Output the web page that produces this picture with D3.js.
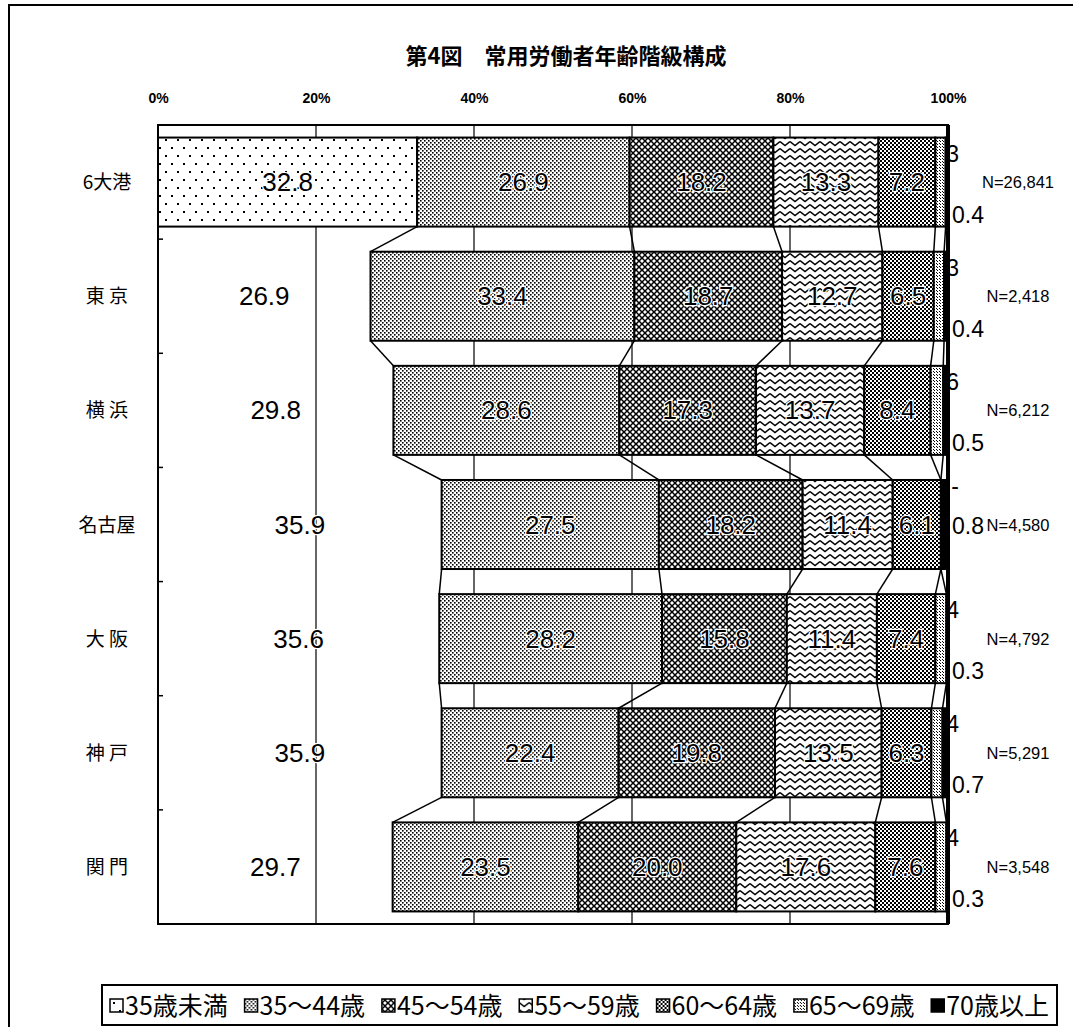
<!DOCTYPE html>
<html>
<head>
<meta charset="utf-8">
<script src="https://cdn.jsdelivr.net/npm/d3@7"></script>
<style>
  html, body { margin: 0; padding: 0; background: #fff; }
  svg { display: block; }
</style>
</head>
<body>
<div id="viz"></div>
<script>
// data (percent of regular workers by age group)
const ports = ["6大港", "東 京", "横 浜", "名古屋", "大 阪", "神 戸", "関 門"];
const ageGroups = ["35歳未満", "35～44歳", "45～54歳", "55～59歳", "60～64歳", "65～69歳", "70歳以上"];
const under35   = [32.8, 26.9, 29.8, 35.9, 35.6, 35.9, 29.7];
const age35to44 = [26.9, 33.4, 28.6, 27.5, 28.2, 22.4, 23.5];
const age45to54 = [18.2, 18.7, 17.3, 18.2, 15.8, 19.8, 20.0];
const age55to59 = [13.3, 12.7, 13.7, 11.4, 11.4, 13.5, 17.6];
const age60to64 = [7.2, 6.5, 8.4, 6.1, 7.4, 6.3, 7.6];
const age65to69 = [1.3, 1.3, 1.6, 0, 1.4, 1.4, 1.4];
const age70plus = [0.4, 0.4, 0.5, 0.8, 0.3, 0.7, 0.3];
const sampleSizes = [26841, 2418, 6212, 4580, 4792, 5291, 3548];
const tickValues = [0, 20, 40, 60, 80, 100];
const titleText = "第4図　常用労働者年齢階級構成";

const seriesValues = [under35, age35to44, age45to54, age55to59, age60to64, age65to69, age70plus];
const table = ports.map((p, i) => {
  const row = {port: p};
  ageGroups.forEach((g, s) => { row[g] = seriesValues[s][i]; });
  return row;
});
const stacked = d3.stack().keys(ageGroups)(table);

const WIDTH = 1073, HEIGHT = 1027;
const JP = "'Noto Sans CJK JP', sans-serif";
const NUM = "'Liberation Sans', Arial, sans-serif";

const svg = d3.select("#viz").append("svg")
  .attr("width", WIDTH)
  .attr("height", HEIGHT);
const defs = svg.append("defs");

// black & white fill patterns like the printed original
function pattern(id, w, h, draw) {
  const p = defs.append("pattern")
    .attr("id", id)
    .attr("patternUnits", "userSpaceOnUse")
    .attr("width", w)
    .attr("height", h);
  p.append("rect").attr("width", w).attr("height", h).attr("fill", "#fff");
  draw(p);
}
const dot = (p, x, y, s) => p.append("rect").attr("x", x).attr("y", y).attr("width", s).attr("height", s).attr("fill", "#000");

pattern("p0", 24, 16, p => {
  [[3, 3], [15, 3], [9, 11], [21, 11]].forEach(([x, y]) => dot(p, x, y, 2));
});
pattern("p1", 4, 4, p => { dot(p, 0, 0, 1.6); dot(p, 2, 2, 1.6); });
pattern("p2", 6, 6, p => {
  p.append("path").attr("d", "M0,0L6,6M6,0L0,6")
    .attr("stroke", "#000").attr("stroke-width", 1.5).attr("fill", "none");
});
pattern("p3", 10, 7, p => {
  p.append("path").attr("d", "M0,1.5L5,5.5L10,1.5")
    .attr("stroke", "#000").attr("stroke-width", 1.5).attr("fill", "none");
});
pattern("p4", 4, 4, p => { dot(p, 0, 0, 2); dot(p, 2, 2, 2); });
pattern("p5", 3, 3, p => { dot(p, 1, 0, 1); dot(p, 0, 2, 1); });
const fills = ["url(#p0)", "url(#p1)", "url(#p2)", "url(#p3)", "url(#p4)", "url(#p5)", "#000"];

// outer frame (only top and left are inside the picture)
svg.append("path")
  .attr("d", `M9,${HEIGHT + 5}V5H${WIDTH + 5}`)
  .attr("fill", "none").attr("stroke", "#000").attr("stroke-width", 2);

svg.append("text")
  .attr("x", 566).attr("y", 64)
  .attr("text-anchor", "middle")
  .style("font-family", JP).style("font-size", "22px").style("font-weight", "bold")
  .text(titleText);

const plot = {left: 158, right: 948, top: 125, bottom: 924};

const x = d3.scaleLinear().domain([0, 100]).range([plot.left, plot.right]);
const y = d3.scaleBand().domain(ports).range([plot.top, plot.bottom])
  .paddingInner(0.22).paddingOuter(0.11);
const bw = y.bandwidth();

// top axis labels
const axis = svg.append("g")
  .attr("transform", `translate(0,${103})`)
  .call(d3.axisTop(x).tickValues(tickValues).tickFormat(d => d + "%").tickSize(0).tickPadding(0));
axis.select(".domain").remove();
axis.selectAll("text")
  .style("font-family", NUM).style("font-size", "14px").style("font-weight", "bold");

// vertical gridlines
svg.append("g").selectAll("line")
  .data(tickValues.slice(1, -1))
  .join("line")
  .attr("x1", d => x(d)).attr("x2", d => x(d))
  .attr("y1", plot.top).attr("y2", plot.bottom)
  .attr("stroke", "#000").attr("stroke-width", 1.2);

// small labels of the two thin segments sit to the right (partly under the bar)
const midRows = new Set(["名古屋"]);
const fmt = v => v === 0 ? "-" : d3.format(".1f")(v);
const outer = svg.append("g").style("font-family", NUM).style("font-size", "23px");
outer.selectAll("text.top")
  .data(ports)
  .join("text")
  .attr("class", "top")
  .attr("x", x(100) + 11)
  .attr("y", p => y(p) + (midRows.has(p) ? 14 : 24))
  .attr("text-anchor", "end")
  .text((p, i) => fmt(age65to69[i]));
outer.selectAll("text.bot")
  .data(ports)
  .join("text")
  .attr("class", "bot")
  .attr("x", x(100) + 4)
  .attr("y", p => midRows.has(p) ? y(p) + bw / 2 + 9 : y(p) + bw - 4)
  .text((p, i) => fmt(age70plus[i]));

// series lines between neighbouring bars
const seriesLines = [];
stacked.slice(0, -1).forEach(s => {
  for (let i = 0; i < ports.length - 1; i++) {
    seriesLines.push({x1: s[i][1], y1: ports[i], x2: s[i + 1][1], y2: ports[i + 1]});
  }
});
svg.append("g").selectAll("line")
  .data(seriesLines)
  .join("line")
  .attr("x1", d => x(d.x1)).attr("y1", d => y(d.y1) + bw)
  .attr("x2", d => x(d.x2)).attr("y2", d => y(d.y2))
  .attr("stroke", "#000").attr("stroke-width", 1.5);

// bars; the under-35 block is only drawn for the 6-port total
const segs = svg.append("g").selectAll("g")
  .data(stacked)
  .join("g")
  .attr("fill", (s, k) => fills[k]);
segs.selectAll("rect")
  .data((s, k) => s.map((d, i) => ({d, i, k})).filter(e => (e.k > 0 || e.i === 0) && e.d[1] > e.d[0]))
  .join("rect")
  .attr("x", e => x(e.d[0]))
  .attr("y", e => y(ports[e.i]))
  .attr("width", e => x(e.d[1]) - x(e.d[0]))
  .attr("height", bw)
  .attr("stroke", "#000")
  .attr("stroke-width", 2);

// plot frame, thick right edge and category ticks
svg.append("rect")
  .attr("x", plot.left).attr("y", plot.top)
  .attr("width", plot.right - plot.left).attr("height", plot.bottom - plot.top)
  .attr("fill", "none").attr("stroke", "#000").attr("stroke-width", 2);
svg.append("line")
  .attr("x1", plot.right).attr("x2", plot.right)
  .attr("y1", plot.top).attr("y2", plot.bottom)
  .attr("stroke", "#000").attr("stroke-width", 4);
svg.append("g").selectAll("line")
  .data(ports.slice(1))
  .join("line")
  .attr("x1", plot.left).attr("x2", plot.left + 5)
  .attr("y1", p => y(p) - y.step() * y.paddingInner() / 2)
  .attr("y2", p => y(p) - y.step() * y.paddingInner() / 2)
  .attr("stroke", "#000").attr("stroke-width", 1.5);

// value labels inside segments
const labels = [];
stacked.slice(0, 5).forEach((s, k) => {
  s.forEach((d, i) => labels.push({v: seriesValues[k][i], cx: (d[0] + d[1]) / 2, p: ports[i]}));
});
svg.append("g").selectAll("text")
  .data(labels)
  .join("text")
  .attr("x", d => x(d.cx))
  .attr("y", d => y(d.p) + bw / 2 + 9)
  .attr("text-anchor", "middle")
  .style("font-family", NUM).style("font-size", "26px")
  .attr("fill", "#000")
  .attr("stroke", "#fff").attr("stroke-width", 2.5).attr("paint-order", "stroke")
  .text(d => d3.format(".1f")(d.v));

// row names and sample sizes
svg.append("g").selectAll("text")
  .data(ports)
  .join("text")
  .attr("x", 107)
  .attr("y", p => y(p) + bw / 2 + 7)
  .attr("text-anchor", "middle")
  .style("font-family", JP).style("font-size", "19px")
  .text(p => p);
svg.append("g").selectAll("text")
  .data(sampleSizes)
  .join("text")
  .attr("x", 1018)
  .attr("y", (n, i) => y(ports[i]) + bw / 2 + 6)
  .attr("text-anchor", "middle")
  .style("font-family", NUM).style("font-size", "16.5px")
  .text(n => "N=" + d3.format(",")(n));

// legend
const legend = {left: 102, right: 1057, top: 985, bottom: 1025};
svg.append("rect")
  .attr("x", legend.left).attr("y", legend.top)
  .attr("width", legend.right - legend.left).attr("height", legend.bottom - legend.top)
  .attr("fill", "#fff").attr("stroke", "#000").attr("stroke-width", 2);
const items = svg.append("g").selectAll("g")
  .data(ageGroups)
  .join("g");
items.append("rect")
  .attr("width", 13).attr("height", 13)
  .attr("y", -16)
  .attr("fill", (g, k) => fills[k])
  .attr("stroke", "#000").attr("stroke-width", 1.5);
items.append("text")
  .attr("x", 15)
  .style("font-family", JP).style("font-size", "25px")
  .text(g => g);
const widths = items.nodes().map(n => n.getBBox().width);
const gap = (legend.right - legend.left - 16 - d3.sum(widths)) / (widths.length - 1);
let cursor = legend.left + 8;
items.attr("transform", (g, k) => {
  const t = `translate(${cursor},${legend.top + 30})`;
  cursor += widths[k] + gap;
  return t;
});
</script>
</body>
</html>
